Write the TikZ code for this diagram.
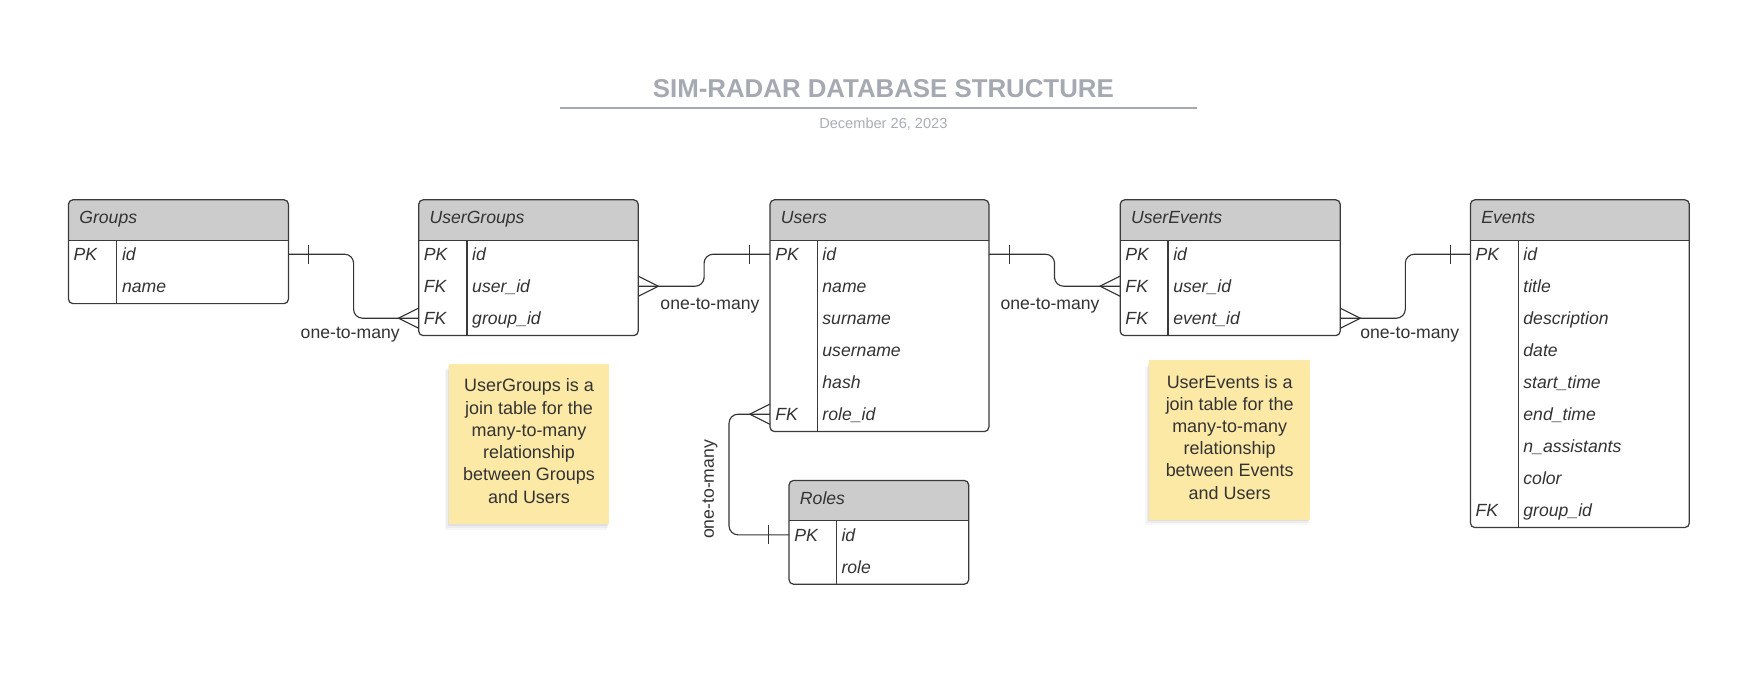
\documentclass[tikz,border=0pt]{standalone}
\usepackage{fontspec}
\setmainfont{Liberation Sans}
\usetikzlibrary{calc}
\definecolor{hdrfill}{HTML}{CCCCCC}
\definecolor{ink}{HTML}{333333}
\definecolor{framec}{HTML}{3A3A3A}
\definecolor{titlegray}{HTML}{A4A9B2}
\definecolor{dategray}{HTML}{A9AEB6}
\definecolor{notefill}{HTML}{FDE9A6}
\tikzset{
  tbl/.style={draw=framec, line width=1.1pt, rounded corners=4pt, inner sep=0pt, outer sep=0pt},
  hdrtext/.style={text=ink, font=\fontsize{15.7}{18}\selectfont\itshape, inner sep=0pt},
  rowtext/.style={text=ink, font=\fontsize{15.7}{18}\selectfont\itshape, inner sep=0pt},
  conn/.style={draw=ink, line width=1pt, rounded corners=8pt},
  lbl/.style={text=ink, font=\fontsize{15.7}{18}\selectfont, inner sep=0pt},
  notebox/.style={fill=notefill, inner sep=0pt, outer sep=0pt},
  notetext/.style={text=ink, font=\fontsize{16}{19.8}\selectfont, align=center, inner sep=0pt},
  crowL/.pic={\draw[ink, line width=1pt] (0,-9)--(-18,0)--(0,9);},
  crowR/.pic={\draw[ink, line width=1pt] (0,-9)--(18,0)--(0,9);},
  tickL/.pic={\draw[ink, line width=1pt] (-18,-8.5)--(-18,8.5);},
  tickR/.pic={\draw[ink, line width=1pt] (18,-8.5)--(18,8.5);},
}
\newcommand\ertable[8]{%
  \pgfmathsetmacro\erbot{#3+64+(#6-1)*28.5}%
  \begin{scope}
    \clip[rounded corners=4pt] (#2,#3) rectangle (#4,\erbot);
    \fill[hdrfill] (#2,#3) rectangle (#4,#3+36);
  \end{scope}
  \draw[framec, line width=1.1pt] (#2,#3+36) -- (#4,#3+36) (#5,#3+36) -- (#5,\erbot);
  \node[tbl, anchor=north west, minimum width={(#4-#2)*1pt}, minimum height={(\erbot-#3)*1pt}] (#1) at (#2,#3) {};
  \node[hdrtext, anchor=base west] (#1-title) at (#2+9.5,#3+21.5) {#7};
  \foreach \k/\f [count=\i] in {#8} {
    \pgfmathsetmacro\ery{#3+48.5+(\i-1)*28.5}
    \coordinate (#1-\i-w) at (#2,\ery);
    \coordinate (#1-\i-e) at (#4,\ery);
    \node[rowtext, anchor=base west] (#1-\i-k) at (#2+4.5,\ery+5.5) {\k};
    \node[rowtext, anchor=base west] (#1-\i-f) at (#5+4.5,\ery+5.5) {\f};
  }%
}
\begin{document}
\begin{tikzpicture}[x=1pt,y=-1pt]
\useasboundingbox (0,0) rectangle (1568,607.6);
\fill[white] (0,0) rectangle (1568,607.6);

% title
\node[text=titlegray, font=\bfseries\fontsize{23}{27}\selectfont, inner sep=0pt] (title) at (787,78.5) {SIM-RADAR DATABASE STRUCTURE};
\coordinate (tl) at (499,96);
\coordinate (tr) at (1066,96);
\draw[titlegray, line width=1.6pt] (tl) -- (tr);
\node[text=dategray, font=\fontsize{13}{15}\selectfont, inner sep=0pt] (date) at (787,111) {December 26, 2023};

% tables
\ertable{groups}{61}{178}{257}{104}{2}{Groups}{PK/id,/name}
\ertable{ug}{373}{178}{568.6}{416}{3}{UserGroups}{PK/id,FK/user\_id,FK/group\_id}
\ertable{users}{686}{178}{881}{728}{6}{Users}{PK/id,/name,/surname,/username,/hash,FK/role\_id}
\ertable{ue}{998}{178}{1194}{1040.6}{3}{UserEvents}{PK/id,FK/user\_id,FK/event\_id}
\ertable{events}{1310}{178}{1505}{1352.5}{9}{Events}{PK/id,/title,/description,/date,/start\_time,/end\_time,/n\_assistants,/color,FK/group\_id}
\ertable{roles}{703}{428}{863}{745}{2}{Roles}{PK/id,/role}

% connectors
\draw[conn] (groups-1-e) -| ($(groups-1-e)!.5!(ug-3-w)$) |- (ug-3-w);
\pic at (groups-1-e) {tickR};
\pic at (ug-3-w) {crowL};
\node[lbl] (l1) at (312,298) {one-to-many};

\draw[conn] (ug-2-e) -| ($(ug-2-e)!.5!(users-1-w)$) |- (users-1-w);
\pic at (ug-2-e) {crowR};
\pic at (users-1-w) {tickL};
\node[lbl] (l2) at (632.5,272.5) {one-to-many};

\draw[conn] (users-1-e) -| ($(users-1-e)!.5!(ue-2-w)$) |- (ue-2-w);
\pic at (users-1-e) {tickR};
\pic at (ue-2-w) {crowL};
\node[lbl] (l3) at (935.5,272.5) {one-to-many};

\draw[conn] (ue-3-e) -| ($(ue-3-e)!.5!(events-1-w)$) |- (events-1-w);
\pic at (ue-3-e) {crowR};
\pic at (events-1-w) {tickL};
\node[lbl] (l4) at (1256,298) {one-to-many};

\draw[conn] (users-6-w) -| ($(roles-1-w)+(-53.5,0)$) -- (roles-1-w);
\pic at (users-6-w) {crowL};
\pic at (roles-1-w) {tickL};
\node[lbl, rotate=90] (l5) at (632.5,436) {one-to-many};

% notes
\foreach \o/\op in {2/0.05,4/0.04,6/0.03}{
  \fill[black, opacity=\op] (400-\o*0.6,324+\o) rectangle (542.6-\o*0.3,467+\o*0.8);
  \fill[black, opacity=\op] (1024-\o*0.6,321+\o) rectangle (1167-\o*0.3,463+\o*0.8);
}
\node[notebox, minimum width=142.6pt, minimum height=143pt] (note1) at (471.3,395.5) {};
\node[notetext] (note1t) at (471.3,393) {UserGroups is a\\join table for the\\many-to-many\\relationship\\between Groups\\and Users};
\node[notebox, minimum width=143pt, minimum height=142pt] (note2) at (1095.5,392) {};
\node[notetext] (note2t) at (1095.5,389.5) {UserEvents is a\\join table for the\\many-to-many\\relationship\\between Events\\and Users};
\end{tikzpicture}
\end{document}
